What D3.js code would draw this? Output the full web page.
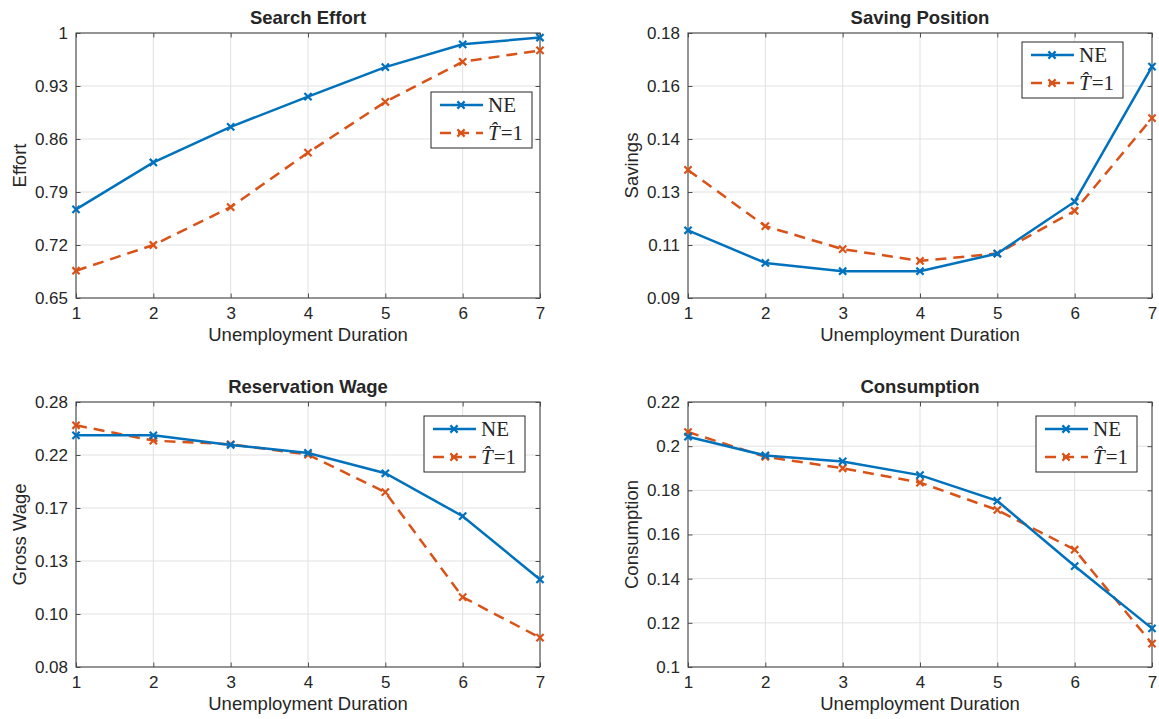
<!DOCTYPE html>
<html>
<head>
<meta charset="utf-8">
<script src="https://cdn.jsdelivr.net/npm/d3@7"></script>
<style>
  body { margin: 0; background: #fff; }
  text { font-family: "Liberation Sans", Arial, Helvetica, sans-serif; fill: #262626; }
</style>
</head>
<body>
<div id="wrap"></div>
<script>
// x axis: unemployment duration
const durations = [1, 2, 3, 4, 5, 6, 7];
const seriesNames = ["NE", "T=1"];

// search effort
const effortNE = [0.767, 0.829, 0.876, 0.916, 0.955, 0.985, 0.994];
const effortT1 = [0.686, 0.720, 0.770, 0.842, 0.909, 0.962, 0.977];
const effortTicks = [0.65, 0.72, 0.79, 0.86, 0.93, 1];
const effortTickLabels = ["0.65", "0.72", "0.79", "0.86", "0.93", "1"];

// saving position
const savingsNE = [0.1130, 0.1019, 0.0991, 0.0991, 0.1051, 0.1227, 0.1686];
const savingsT1 = [0.1335, 0.1144, 0.1066, 0.1026, 0.1051, 0.1196, 0.1511];
const savingsTicks = [0.09, 0.108, 0.126, 0.144, 0.162, 0.18];
const savingsTickLabels = ["0.09", "0.11", "0.13", "0.14", "0.16", "0.18"];

// reservation wage (log axis)
const wageNE = [0.2392, 0.2392, 0.2286, 0.2201, 0.1999, 0.1632, 0.1210];
const wageT1 = [0.2508, 0.2333, 0.2293, 0.2184, 0.1828, 0.1113, 0.0919];
const wageTicks = [0.08, 0.102778, 0.132043, 0.169640, 0.217942, 0.28];
const wageTickLabels = ["0.08", "0.10", "0.13", "0.17", "0.22", "0.28"];

// consumption
const consNE = [0.2043, 0.1958, 0.1931, 0.1869, 0.1752, 0.1457, 0.1175];
const consT1 = [0.2064, 0.1952, 0.1900, 0.1835, 0.1711, 0.1531, 0.1106];
const consTicks = [0.1, 0.12, 0.14, 0.16, 0.18, 0.2, 0.22];
const consTickLabels = ["0.1", "0.12", "0.14", "0.16", "0.18", "0.2", "0.22"];

const width = 1159;
const height = 719;
const plotW = 464;
const plotH = 265;
const blue = "#0072BD";
const orange = "#D95319";
const gridColor = "#e1e1e1";
const axisColor = "#262626";
const legW = 101, legH = 56;
const lineW = 2.5;
const dash = "11,7";

const svg = d3.select("#wrap")
  .append("svg")
  .attr("width", width)
  .attr("height", height);

const panels = [
  { title: "Search Effort", ylabel: "Effort", ne: effortNE, t1: effortT1,
    ticks: effortTicks, labels: effortTickLabels, log: false,
    left: 76, top: 33, legRight: 8, legTop: 59 },
  { title: "Saving Position", ylabel: "Savings", ne: savingsNE, t1: savingsT1,
    ticks: savingsTicks, labels: savingsTickLabels, log: false,
    left: 688, top: 33, legRight: 29, legTop: 9 },
  { title: "Reservation Wage", ylabel: "Gross Wage", ne: wageNE, t1: wageT1,
    ticks: wageTicks, labels: wageTickLabels, log: true,
    left: 76, top: 402, legRight: 15, legTop: 14 },
  { title: "Consumption", ylabel: "Consumption", ne: consNE, t1: consT1,
    ticks: consTicks, labels: consTickLabels, log: false,
    left: 688, top: 402, legRight: 15, legTop: 14 }
];

const xMark = "M-3.6,-3.6L3.6,3.6M-3.6,3.6L3.6,-3.6";

function styleAxis(g) {
  g.select(".domain").remove();
  g.selectAll(".tick line").attr("stroke", axisColor).attr("stroke-width", 0.8);
  g.selectAll(".tick text")
    .attr("fill", axisColor)
    .style("font-family", "'Liberation Sans', Arial, sans-serif")
    .style("font-size", "17px");
}

function drawPanel(p) {
  const g = svg.append("g").attr("transform", `translate(${p.left},${p.top})`);
  const x = d3.scaleLinear().domain([1, 7]).range([0, plotW]);
  const y = (p.log ? d3.scaleLog() : d3.scaleLinear())
    .domain([p.ticks[0], p.ticks[p.ticks.length - 1]])
    .range([plotH, 0]);

  // 网格
  g.append("g").selectAll("line").data(durations).join("line")
    .attr("x1", d => x(d)).attr("x2", d => x(d))
    .attr("y1", 0).attr("y2", plotH)
    .attr("stroke", gridColor).attr("stroke-width", 1);
  g.append("g").selectAll("line").data(p.ticks).join("line")
    .attr("x1", 0).attr("x2", plotW)
    .attr("y1", d => y(d)).attr("y2", d => y(d))
    .attr("stroke", gridColor).attr("stroke-width", 1);

  // 坐标轴
  const fmt = d => p.labels[p.ticks.indexOf(d)];
  g.append("g").attr("transform", `translate(0,${plotH})`)
    .call(d3.axisBottom(x).tickValues(durations).tickSize(-4.5).tickPadding(9).tickFormat(d3.format("d")))
    .call(styleAxis);
  g.append("g")
    .call(d3.axisTop(x).tickValues(durations).tickSize(-4.5).tickFormat(""))
    .call(styleAxis);
  g.append("g")
    .call(d3.axisLeft(y).tickValues(p.ticks).tickSize(-4.5).tickPadding(8).tickFormat(fmt))
    .call(styleAxis);
  g.append("g").attr("transform", `translate(${plotW},0)`)
    .call(d3.axisRight(y).tickValues(p.ticks).tickSize(-4.5).tickFormat(""))
    .call(styleAxis);

  g.append("rect")
    .attr("width", plotW).attr("height", plotH)
    .attr("fill", "none").attr("stroke", "#4a4a4a").attr("stroke-width", 1.1);

  // lines
  const line = d3.line().x((d, i) => x(durations[i])).y(d => y(d));
  const series = [
    { values: p.t1, color: orange, dash: dash },
    { values: p.ne, color: blue, dash: null }
  ];
  series.forEach(s => {
    g.append("path").datum(s.values)
      .attr("d", line)
      .attr("fill", "none")
      .attr("stroke", s.color)
      .attr("stroke-width", lineW)
      .attr("stroke-dasharray", s.dash);
    g.append("g").selectAll("path").data(s.values).join("path")
      .attr("d", xMark)
      .attr("transform", (d, i) => `translate(${x(durations[i])},${y(d)})`)
      .attr("stroke", s.color)
      .attr("stroke-width", 2.2)
      .attr("fill", "none");
  });

  // title and labels
  g.append("text")
    .attr("x", plotW / 2).attr("y", -9)
    .attr("text-anchor", "middle")
    .style("font-size", "18.5px").style("font-weight", "bold")
    .attr("fill", "#000")
    .text(p.title);
  g.append("text")
    .attr("x", plotW / 2).attr("y", plotH + 43)
    .attr("text-anchor", "middle")
    .style("font-size", "18.5px")
    .text("Unemployment Duration");
  g.append("text")
    .attr("transform", `translate(-50,${plotH / 2}) rotate(-90)`)
    .attr("text-anchor", "middle")
    .style("font-size", "18.5px")
    .text(p.ylabel);

  // legend
  const lg = g.append("g")
    .attr("transform", `translate(${plotW - p.legRight - legW},${p.legTop})`);
  lg.append("rect")
    .attr("width", legW).attr("height", legH)
    .attr("fill", "#fff").attr("stroke", axisColor).attr("stroke-width", 1);
  const rows = [
    { name: seriesNames[0], color: blue, dash: null, y: 13 },
    { name: seriesNames[1], color: orange, dash: dash, y: 41 }
  ];
  rows.forEach((r, i) => {
    lg.append("line")
      .attr("x1", 9).attr("x2", 52).attr("y1", r.y).attr("y2", r.y)
      .attr("stroke", r.color).attr("stroke-width", lineW)
      .attr("stroke-dasharray", r.dash);
    lg.append("path").attr("d", xMark)
      .attr("transform", `translate(30,${r.y})`)
      .attr("stroke", r.color).attr("stroke-width", 2.2).attr("fill", "none");
    const t = lg.append("text")
      .attr("x", 57).attr("y", r.y + 7)
      .style("font-family", "'Liberation Serif', 'Times New Roman', serif")
      .style("font-size", "21px")
      .attr("fill", "#000");
    if (i === 0) {
      t.text(r.name);
    } else {
      t.append("tspan").style("font-style", "italic").text("T\u0302");
      t.append("tspan").attr("dx", 1).text("=1");
    }
  });
}

panels.forEach(drawPanel);
</script>
</body>
</html>
